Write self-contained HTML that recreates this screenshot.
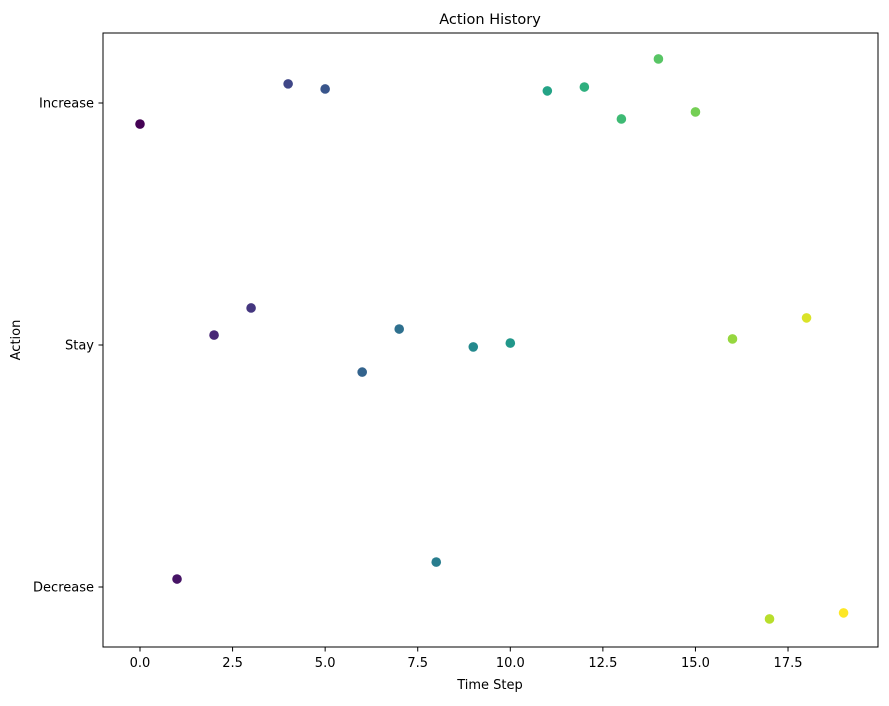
<!DOCTYPE html>
<html><head><meta charset="utf-8"><style>
body{margin:0;background:#fff;}
svg text{font-family:"DejaVu Sans","Liberation Sans",sans-serif;font-size:13px;fill:#000;}
</style></head><body>
<svg id="chart" width="889" height="701" xmlns="http://www.w3.org/2000/svg">
<rect x="0" y="0" width="889" height="701" fill="#fff"/>
<text x="490" y="24" text-anchor="middle" style="font-size:14.5px">Action History</text>
<rect x="103" y="33" width="775" height="614" fill="none" stroke="#000" stroke-width="1"/>
<g id="xticks"></g>
<g id="yticks"></g>
<g id="points"></g>
<text x="490" y="689" text-anchor="middle">Time Step</text>
<text transform="translate(20,340) rotate(-90)" text-anchor="middle">Action</text>
</svg>
<script>
const timeSteps=[0,1,2,3,4,5,6,7,8,9,10,11,12,13,14,15,16,17,18,19];
const actionValues=[1.913,0.033,1.041,1.153,2.079,2.058,0.888,1.066,0.103,0.992,1.008,2.05,2.066,1.934,2.182,1.963,1.025,-0.132,1.112,-0.107];
const xTickValues=[0,2.5,5,7.5,10,12.5,15,17.5];
const xTickLabels=["0.0","2.5","5.0","7.5","10.0","12.5","15.0","17.5"];
const yTickValues=[0,1,2];
const yTickLabels=["Decrease","Stay","Increase"];
const NS="http://www.w3.org/2000/svg";
function xs(v){return 140+v*37.03;}
function ys(v){return 587-v*242;}
const vir=[[68,1,84],[72,40,120],[62,74,137],[49,104,142],[38,130,142],[31,158,137],[53,183,121],[109,205,89],[180,222,44],[253,231,37]];
function viridis(t){const p=t*(vir.length-1);const i=Math.min(Math.floor(p),vir.length-2);const f=p-i;
const c=vir[i].map((a,k)=>Math.round(a+(vir[i+1][k]-a)*f));return `rgb(${c[0]},${c[1]},${c[2]})`;}
function mk(tag,attrs){const e=document.createElementNS(NS,tag);for(const k in attrs)e.setAttribute(k,attrs[k]);return e;}
const gx=document.getElementById('xticks');
xTickValues.forEach((v,i)=>{
const l=mk('line',{x1:xs(v),x2:xs(v),y1:647,y2:651.5,stroke:'#000'});


gx.appendChild(l);
const t=mk('text',{x:xs(v),y:667,'text-anchor':'middle'});t.textContent=xTickLabels[i];


gx.appendChild(t);});
const gy=document.getElementById('yticks');
yTickValues.forEach((v,i)=>{
const l=mk('line',{x1:98.5,x2:103,y1:ys(v),y2:ys(v),stroke:'#000'});


gy.appendChild(l);
const t=mk('text',{x:94,y:ys(v)+4.5,'text-anchor':'end'});t.textContent=yTickLabels[i];


gy.appendChild(t);});
const gp=document.getElementById('points');
timeSteps.forEach((s,i)=>{
const c=mk('circle',{cx:xs(s),cy:ys(actionValues[i]),r:4.8,fill:viridis(i/(timeSteps.length-1))});


gp.appendChild(c);});
</script>
</body></html>
